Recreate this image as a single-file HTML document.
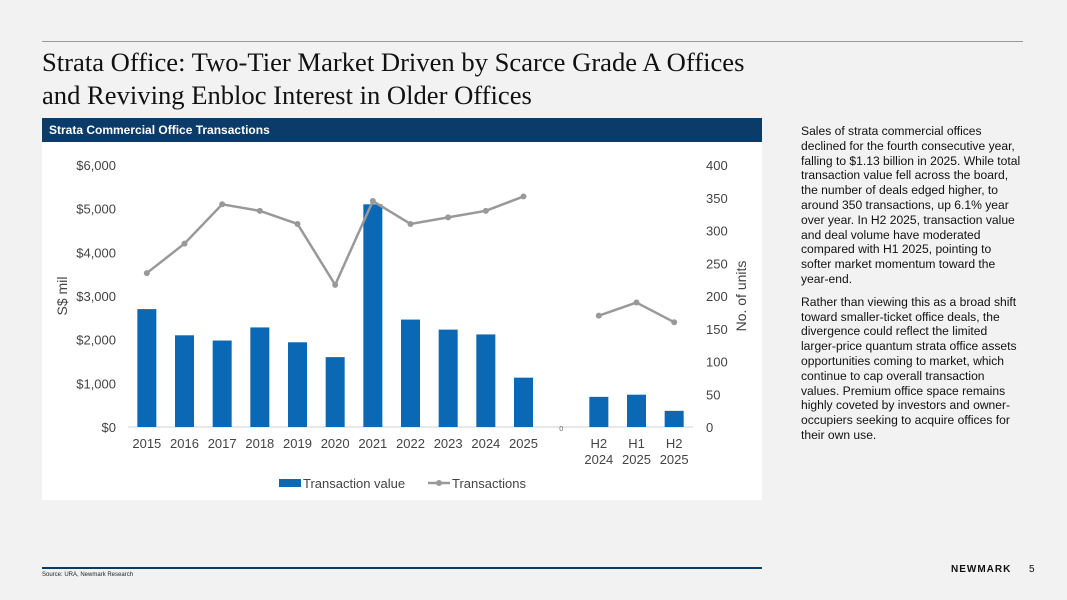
<!DOCTYPE html>
<html><head><meta charset="utf-8"><style>
body{margin:0;width:1067px;height:600px;background:#f2f2f2;position:relative;overflow:hidden;font-family:"Liberation Sans",sans-serif}
.abs{position:absolute}
</style></head><body>
<div class="abs" style="left:42px;top:41px;width:981px;height:1px;background:#9a9a9a"></div>
<div class="abs" style="left:42px;top:46px;font-family:'Liberation Serif',serif;font-size:26.6px;line-height:33px;color:#111">Strata Office: Two-Tier Market Driven by Scarce Grade A Offices<br>and Reviving Enbloc Interest in Older Offices</div>
<div class="abs" style="left:42px;top:118px;width:720px;height:382px;background:#fff"></div>
<div class="abs" style="left:42px;top:118px;width:720px;height:24px;background:#0b3b69;color:#fff;font-weight:bold;font-size:12px;line-height:24px;padding-left:7px;box-sizing:border-box">Strata Commercial Office Transactions</div>
<svg class="abs" style="left:0;top:0" width="1067" height="600" id="chart"></svg>
<div class="abs" style="left:801px;top:124px;font-size:12.1px;line-height:14.8px;color:#111">Sales of strata commercial offices<br>declined for the fourth consecutive year,<br>falling to $1.13 billion in 2025. While total<br>transaction value fell across the board,<br>the number of deals edged higher, to<br>around 350 transactions, up 6.1% year<br>over year. In H2 2025, transaction value<br>and deal volume have moderated<br>compared with H1 2025, pointing to<br>softer market momentum toward the<br>year-end.<div style="height:8px"></div>Rather than viewing this as a broad shift<br>toward smaller-ticket office deals, the<br>divergence could reflect the limited<br>larger-price quantum strata office assets<br>opportunities coming to market, which<br>continue to cap overall transaction<br>values. Premium office space remains<br>highly coveted by investors and owner-<br>occupiers seeking to acquire offices for<br>their own use.</div>
<div class="abs" style="left:42px;top:567px;width:720px;height:2px;background:#0b3b69"></div>
<div class="abs" style="left:42px;top:572px;font-size:6px;color:#222">Source: URA, Newmark Research</div>
<div class="abs" style="left:951px;top:564px;font-size:10px;font-weight:bold;letter-spacing:1px;color:#111">NEWMARK</div>
<div class="abs" style="left:1029px;top:564px;font-size:10px;color:#111">5</div>
<script>
const categories=["2015","2016","2017","2018","2019","2020","2021","2022","2023","2024","2025","","H2|2024","H1|2025","H2|2025"];
const valueSeries=[2700,2100,1980,2280,1940,1600,5100,2460,2230,2120,1130,null,690,740,370];
const countSeries=[235,280,340,330,310,217,345,310,320,330,352,null,170,190,160];
const leftTicks=[0,1000,2000,3000,4000,5000,6000];
const rightTicks=[0,50,100,150,200,250,300,350,400];
const NS="http://www.w3.org/2000/svg";
const svg=document.getElementById('chart');
function mk(t,a,txt){const e=document.createElementNS(NS,t);for(const k in a)e.setAttribute(k,a[k]);if(txt!=null)e.textContent=txt;svg.appendChild(e);return e;}
const y0=427,y1=165,xStart=128,xEnd=693;
const step=(xEnd-xStart)/categories.length;
const xc=i=>xStart+step*(i+0.5);
const yL=v=>y0-(v/6000)*(y0-y1);
const yR=v=>y0-(v/400)*(y0-y1);
leftTicks.forEach(v=>{const t=mk('text',{x:116,y:yL(v)+5,'text-anchor':'end','font-size':13,fill:'#444','font-family':'Liberation Sans'},'$'+v.toLocaleString('en-US'));

});
rightTicks.forEach(v=>{const t=mk('text',{x:706,y:yR(v)+5,'font-size':13,fill:'#444','font-family':'Liberation Sans'},String(v));

});
const ax=mk('line',{x1:xStart,x2:xEnd,y1:y0,y2:y0,stroke:'#d0d0d0','stroke-width':1});


valueSeries.forEach((v,i)=>{if(v==null)return;const r=mk('rect',{x:xc(i)-9.5,y:yL(v),width:19,height:y0-yL(v),fill:'#0b68b4'});

});
categories.forEach((c,i)=>{if(!c){const z=mk('text',{x:xc(i),y:y0+4,'text-anchor':'middle','font-size':7,fill:'#666'},'0');return;}
const parts=c.split('|');parts.forEach((p,k)=>{const t=mk('text',{x:xc(i),y:448+k*16,'text-anchor':'middle','font-size':13,fill:'#444','font-family':'Liberation Sans'},p);

});});
function seg(a,b){const pts=[];for(let i=a;i<=b;i++)pts.push(xc(i)+','+yR(countSeries[i]));const p=mk('polyline',{points:pts.join(' '),fill:'none',stroke:'#999','stroke-width':2.5});

}
seg(0,10);seg(12,14);
countSeries.forEach((v,i)=>{if(v==null)return;const c=mk('circle',{cx:xc(i),cy:yR(v),r:3,fill:'#999'});

});
const yt=mk('text',{x:0,y:0,transform:'translate(67,296) rotate(-90)','text-anchor':'middle','font-size':14,fill:'#444','font-family':'Liberation Sans'},'S$ mil');


const yt2=mk('text',{x:0,y:0,transform:'translate(746,296) rotate(-90)','text-anchor':'middle','font-size':14,fill:'#444','font-family':'Liberation Sans'},'No. of units');


const l1=mk('rect',{x:279,y:479,width:22,height:8,fill:'#0b68b4'});


const lt1=mk('text',{x:303,y:488,'font-size':13,fill:'#444','font-family':'Liberation Sans'},'Transaction value');


const l2=mk('line',{x1:428,x2:450,y1:483,y2:483,stroke:'#999','stroke-width':2.5});


const l2c=mk('circle',{cx:439,cy:483,r:3,fill:'#999'});


const lt2=mk('text',{x:452,y:488,'font-size':13,fill:'#444','font-family':'Liberation Sans'},'Transactions');


</script>
</body></html>
